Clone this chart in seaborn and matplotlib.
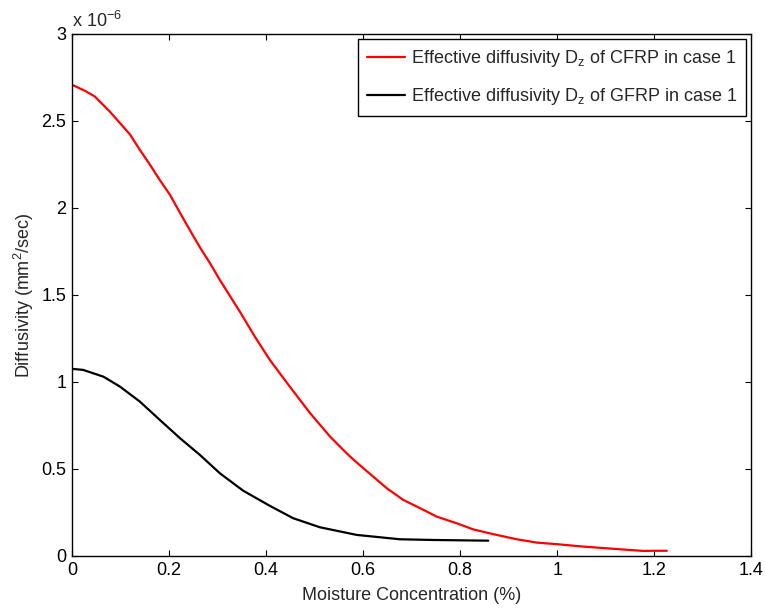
import pandas as pd
import matplotlib
matplotlib.use("Agg")
import matplotlib.pyplot as plt
import seaborn as sns
from matplotlib.ticker import FuncFormatter, MultipleLocator

# values (diffusivity in units of 1e-6 mm^2/sec)
cfrp_x = [0.0, 0.027, 0.047, 0.078, 0.099, 0.12, 0.14, 0.161, 0.181, 0.202,
          0.223, 0.243, 0.264, 0.285, 0.305, 0.346, 0.377, 0.408, 0.449,
          0.491, 0.532, 0.559, 0.573, 0.594, 0.621, 0.649, 0.683, 0.718,
          0.752, 0.793, 0.827, 0.869, 0.917, 0.958, 0.999, 1.054, 1.123,
          1.178, 1.198, 1.226]
cfrp_d = [2.707, 2.672, 2.64, 2.553, 2.487, 2.42, 2.333, 2.247, 2.16, 2.075,
          1.97, 1.872, 1.772, 1.68, 1.585, 1.404, 1.26, 1.126, 0.973,
          0.82, 0.686, 0.61, 0.572, 0.52, 0.456, 0.389, 0.322, 0.274,
          0.226, 0.188, 0.153, 0.125, 0.096, 0.077, 0.068, 0.054, 0.04,
          0.029, 0.03, 0.03]

gfrp_x = [0.0, 0.023, 0.065, 0.099, 0.14, 0.181, 0.223, 0.264, 0.305, 0.353,
          0.408, 0.456, 0.511, 0.587, 0.676, 0.744, 0.858]
gfrp_d = [1.075, 1.069, 1.03, 0.973, 0.887, 0.782, 0.676, 0.58, 0.475, 0.375,
          0.288, 0.217, 0.165, 0.121, 0.096, 0.092, 0.088]

labels = ["Effective diffusivity D$_{\\mathrm{z}}$ of CFRP in case 1",
          "Effective diffusivity D$_{\\mathrm{z}}$ of GFRP in case 1"]

df = pd.concat([
    pd.DataFrame({"x": cfrp_x, "d": cfrp_d, "series": labels[0]}),
    pd.DataFrame({"x": gfrp_x, "d": gfrp_d, "series": labels[1]}),
])

sns.set_theme(style="white")
plt.rcParams['font.family'] = ['Liberation Sans', 'DejaVu Sans']
plt.rcParams['mathtext.fontset'] = 'custom'
plt.rcParams['mathtext.rm'] = 'Liberation Sans'
plt.rcParams['mathtext.it'] = 'Liberation Sans:italic'
plt.rcParams['font.size'] = 13

fig = plt.figure(figsize=(7.65, 6.13), dpi=100)
ax = fig.add_axes([0.094, 0.093, 0.888, 0.852])

sns.lineplot(data=df, x="x", y="d", hue="series", palette=["#ff0000", "#000000"],
             sort=False, estimator=None, linewidth=1.6, ax=ax)

ax.set_xlim(0, 1.4)
ax.set_ylim(0, 3)
ax.xaxis.set_major_locator(MultipleLocator(0.2))
ax.yaxis.set_major_locator(MultipleLocator(0.5))
fmt = FuncFormatter(lambda v, p: f"{v:g}")
ax.xaxis.set_major_formatter(fmt)
ax.yaxis.set_major_formatter(fmt)
ax.tick_params(direction="in", length=4.5, width=0.8, top=True, right=True,
               bottom=True, left=True, labelsize=13, colors="black", pad=4)
for s in ax.spines.values():
    s.set_color("black")
    s.set_linewidth(1.0)

ax.set_xlabel("Moisture Concentration (%)", fontsize=13, labelpad=6)
ax.set_ylabel("Diffusivity (mm$^2$/sec)", fontsize=13, labelpad=4)
ax.text(0.0, 1.006, "x 10$^{-6}$", transform=ax.transAxes, fontsize=13,
        ha="left", va="bottom")

leg = ax.legend(loc="upper right", fontsize=13, frameon=True, fancybox=False,
                framealpha=1, edgecolor="black", borderaxespad=0.3,
                handlelength=2.1, handletextpad=0.3, labelspacing=0.95,
                borderpad=0.5)
leg.get_frame().set_linewidth(1.0)

fig.savefig("out.png", dpi=100)
